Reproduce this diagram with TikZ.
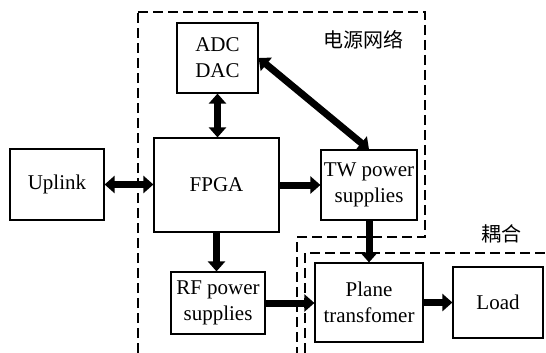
\documentclass[tikz,border=0pt]{standalone}
\usepackage{fontspec}
\setmainfont{Liberation Serif}
\newfontfamily\cjkfont{Noto Sans CJK SC}
\usepackage{tikz}
\usetikzlibrary{arrows.meta, positioning}
\tikzstyle{block} = [
    rectangle,
    draw=black,
    line width=1.2pt,
    inner sep=0pt,
    align=center,
    font=\fontsize{21}{26}\selectfont
]
\tikzstyle{arrow} = [
    line width=7pt,
    -{Triangle[length=10pt, width=17pt]},
    color=black
]
\tikzstyle{darrow} = [
    line width=7pt,
    {Triangle[length=10pt, width=17pt]}-{Triangle[length=10pt, width=17pt]},
    color=black
]
\tikzstyle{region} = [
    line width=2.2pt,
    dash pattern=on 10pt off 5pt
]
\tikzstyle{zone} = [
    font=\cjkfont\fontsize{20}{24}\selectfont
]

\begin{document}
\begin{tikzpicture}[x=10pt, y=-10pt]
        \useasboundingbox (0, 0) rectangle (54.6, 35.3);

        % Regions
        \draw[region, line width=1.3pt] (13.8, 35.3) -- (13.8, 1.2);
        \draw[region] (13.8, 1.2) -- (42.5, 1.2) -- (42.5, 23.7) -- (29.7, 23.7) -- (29.7, 35.3);
        \draw[region] (30.5, 35.3) -- (30.5, 25.3) -- (54.6, 25.3);
        \node[zone] (power) at (36.3, 4.0) {电源网络};
        \node[zone] (coupling) at (50.1, 23.4) {耦合};

        % Blocks
        \node[block, minimum width=94pt, minimum height=71pt] (uplink) at (5.7, 18.45) {Uplink};
        \node[block, minimum width=125pt, minimum height=94pt] (fpga) at (21.65, 18.5) {FPGA};
        \node[block, minimum width=81pt, minimum height=70pt] (adc) at (21.75, 5.8) {ADC\\DAC};
        \node[block, minimum width=96pt, minimum height=70pt] (tw) at (36.9, 18.5) {TW power\\supplies};
        \node[block, minimum width=94pt, minimum height=62pt] (rf) at (21.8, 30.3) {RF power\\supplies};
        \node[block, minimum width=108pt, minimum height=79pt] (plane) at (36.9, 30.25) {Plane\\transfomer};
        \node[block, minimum width=90pt, minimum height=71pt] (load) at (49.8, 30.25) {Load};

        % Arrows
        \draw[darrow] (uplink.east) -- (uplink.east -| fpga.west);
        \draw[darrow] (adc.south) -- (adc.south |- fpga.north);
        \draw[darrow] (adc.east) -- (tw.north);
        \draw[arrow] (fpga.east |- tw.west) -- (tw.west);
        \draw[arrow] (fpga.south) -- (fpga.south |- rf.north);
        \draw[arrow] (tw.south) -- (plane.north);
        \draw[arrow] (rf.east) -- (rf.east -| plane.west);
        \draw[arrow] (plane.east) -- (load.west);
    \end{tikzpicture}
\end{document}
